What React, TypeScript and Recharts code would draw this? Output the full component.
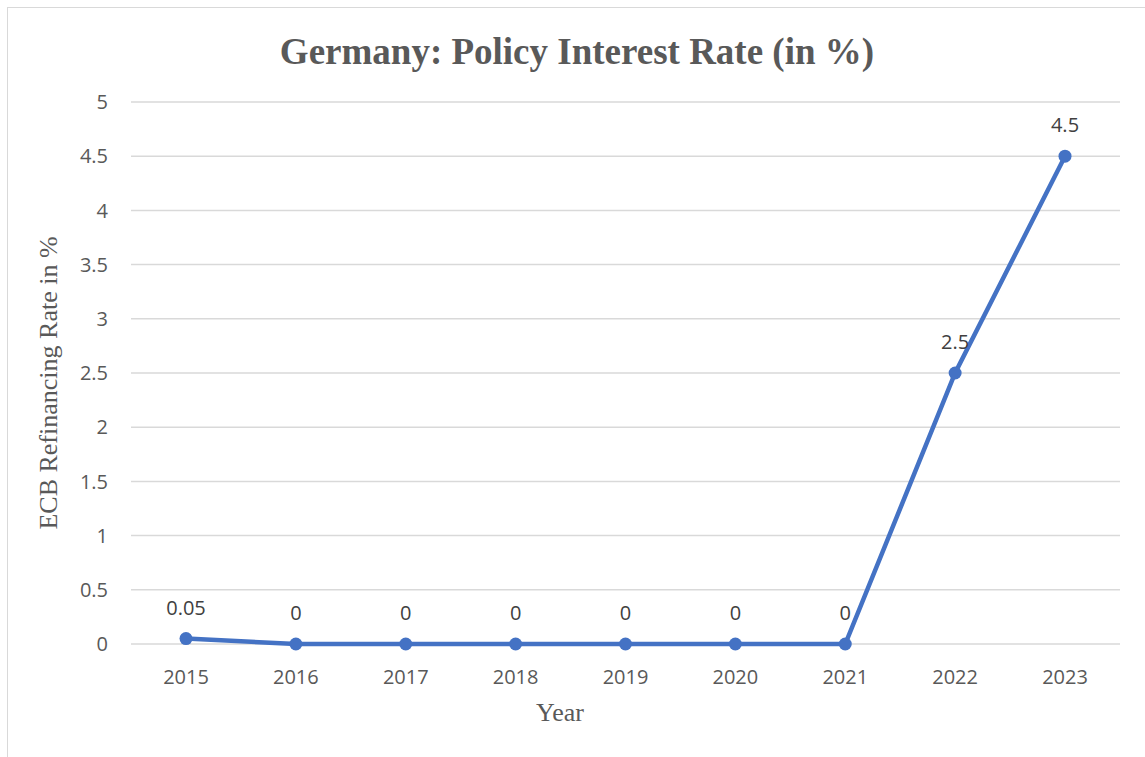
import { CartesianGrid, LabelList, Line, LineChart, XAxis, YAxis } from "recharts";

const years = ["2015", "2016", "2017", "2018", "2019", "2020", "2021", "2022", "2023"];
const rates = [0.05, 0, 0, 0, 0, 0, 0, 2.5, 4.5];
const yTicks = [0, 0.5, 1, 1.5, 2, 2.5, 3, 3.5, 4, 4.5, 5];

const data = years.map((year, i) => ({ year, rate: rates[i] }));

const W = 1145;
const H = 757;
const grey = "#595959";
const blue = "#4472C4";
const serif = "'Liberation Serif', 'Times New Roman', serif";
const sans = "'Open Sans', 'Noto Sans', sans-serif";

export default function App() {
  return (
    <div style={{ position: "absolute", left: 0, top: 0, width: W, height: H, background: "#fff" }}>
      <div
        style={{
          position: "absolute",
          left: 7,
          top: 7,
          right: 0,
          bottom: 0,
          borderLeft: "1.5px solid #d9d9d9",
          borderTop: "1.5px solid #d9d9d9",
        }}
      />
      <LineChart
        width={W}
        height={H}
        data={data}
        margin={{ top: 102, right: 25, bottom: 83, left: 71 }}
        style={{ position: "absolute", left: 0, top: 0 }}
      >
        <CartesianGrid vertical={false} stroke="#d9d9d9" strokeWidth={1.5} />
        <XAxis
          dataKey="year"
          height={30}
          padding={{ left: 55, right: 55 }}
          axisLine={false}
          tickLine={false}
          tickSize={0}
          tickMargin={26}
          tick={{ fill: grey, fontSize: 20, fontFamily: sans }}
        />
        <YAxis
          width={60}
          domain={[0, 5]}
          ticks={yTicks}
          axisLine={false}
          tickLine={false}
          tickSize={0}
          tickMargin={23}
          tick={{ fill: grey, fontSize: 20, fontFamily: sans }}
        />
        <Line
          dataKey="rate"
          stroke={blue}
          strokeWidth={4.5}
          dot={{ r: 6.5, fill: blue, stroke: blue, strokeWidth: 0 }}
          isAnimationActive={false}
        >
          <LabelList
            dataKey="rate"
            position="top"
            offset={24}
            style={{ fill: "#404040", fontSize: 20, fontFamily: sans }}
          />
        </Line>
      </LineChart>
      <svg
        width={W}
        height={H}
        style={{ position: "absolute", left: 0, top: 0, pointerEvents: "none" }}
      >
        <text
          x={577}
          y={64}
          textAnchor="middle"
          fill={grey}
          style={{ fontFamily: serif, fontSize: 37, fontWeight: 700 }}
        >
          Germany: Policy Interest Rate (in %)
        </text>
        <text
          x={560}
          y={721}
          textAnchor="middle"
          fill={grey}
          style={{ fontFamily: serif, fontSize: 26 }}
        >
          Year
        </text>
        <text
          x={57}
          y={383}
          textAnchor="middle"
          transform="rotate(-90 57 383)"
          fill={grey}
          style={{ fontFamily: serif, fontSize: 26 }}
        >
          ECB Refinancing Rate in %
        </text>
      </svg>
    </div>
  );
}
